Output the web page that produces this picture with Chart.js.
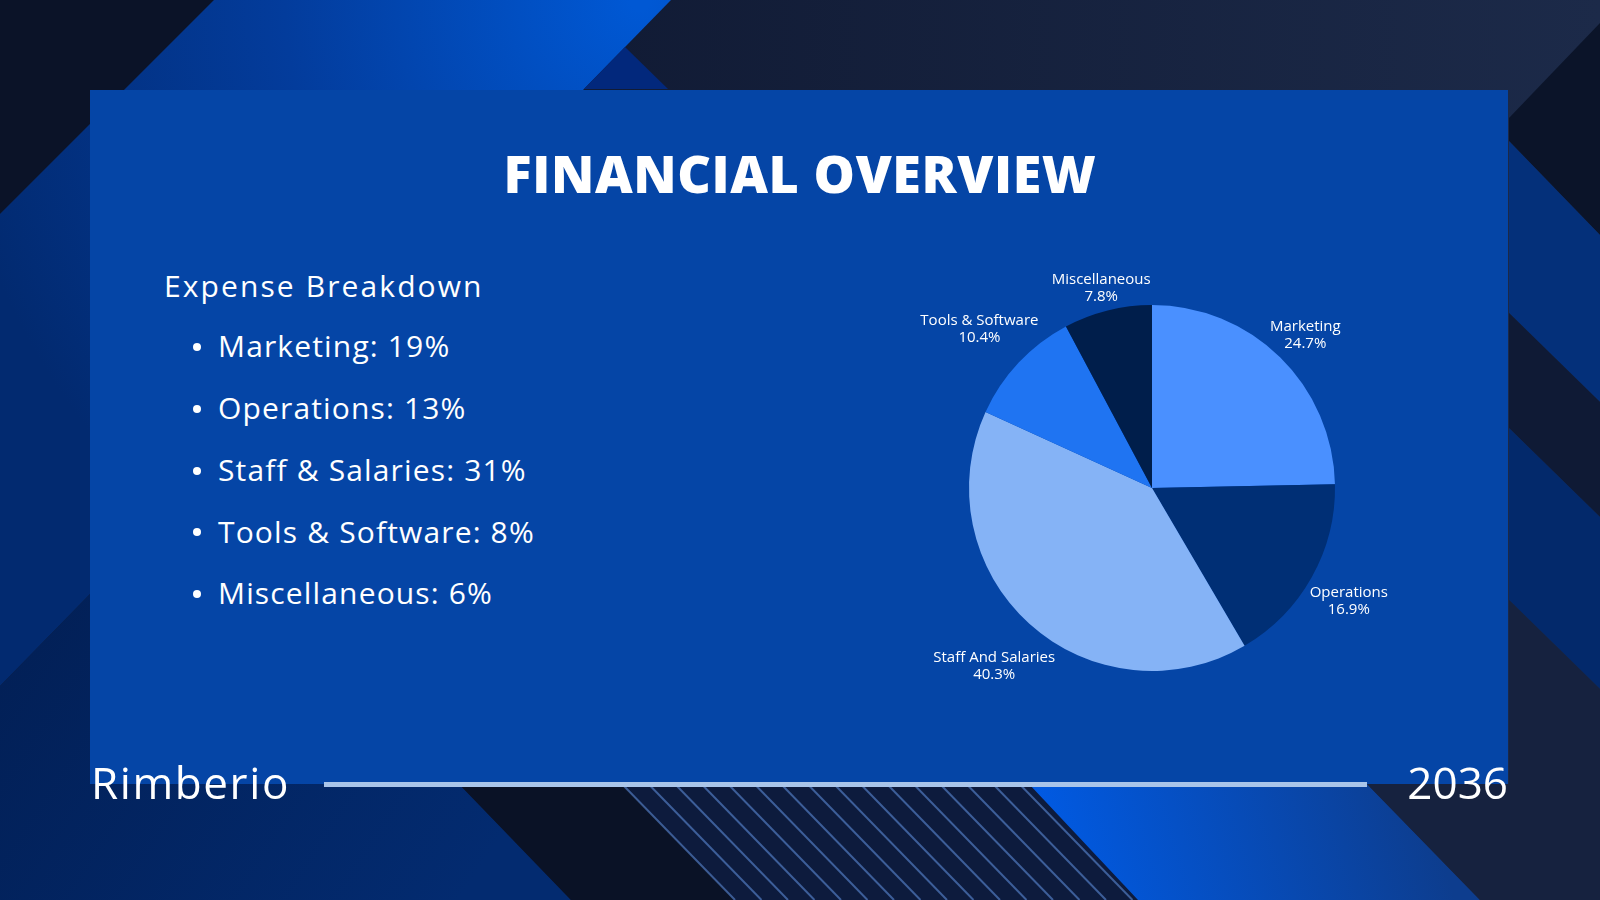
<!DOCTYPE html>
<html>
<head>
<meta charset="utf-8">
<script src="https://cdn.jsdelivr.net/npm/chart.js@4.4.1/dist/chart.umd.min.js"></script>
<style>
html,body{margin:0;padding:0;width:1600px;height:900px;overflow:hidden;background:#18243f;font-family:"Open Sans",sans-serif;color:#fff;}
#fondo{position:absolute;left:0;top:0;}
#panel{position:absolute;left:90px;top:90px;width:1418px;height:694px;background:#0545a6;}
#titulo{position:absolute;left:0;width:1600px;top:147px;text-align:center;font-weight:800;font-size:52px;line-height:52px;letter-spacing:0.6px;white-space:nowrap;}
#subtitulo{position:absolute;left:164px;top:271px;font-size:30px;line-height:30px;letter-spacing:2.1px;white-space:nowrap;}
.item{position:absolute;left:218px;font-size:30px;line-height:30px;letter-spacing:1.15px;white-space:nowrap;}
.punto{position:absolute;left:193px;width:8px;height:8px;border-radius:50%;background:#fff;}
#marca{position:absolute;left:91px;top:760px;font-size:44px;line-height:44px;letter-spacing:1.6px;}
#anio{position:absolute;right:92px;top:760px;font-size:44px;line-height:44px;}
#linea{position:absolute;left:324px;top:782px;width:1043px;height:5px;background:#a9c5ea;}
#cajaPie{position:absolute;left:852px;top:188px;width:600px;height:600px;}
</style>
</head>
<body>
<canvas id="fondo" width="1600" height="900"></canvas>
<div id="panel"></div>
<div id="titulo">FINANCIAL OVERVIEW</div>
<div id="subtitulo">Expense Breakdown</div>
<div id="lista"></div>
<div id="linea"></div>
<div id="marca">Rimberio</div>
<div id="anio">2036</div>
<div id="cajaPie"><canvas id="grafica"></canvas></div>

<script>
//DATOS
const categorias = ["Marketing", "Operations", "Staff And Salaries", "Tools & Software", "Miscellaneous"];
const valores = [24.7, 16.9, 40.3, 10.4, 7.8];
const colores = ["#4a90ff", "#002f75", "#85b3f6", "#1f74f2", "#001e4b"];

const listaNombres = ["Marketing", "Operations", "Staff & Salaries", "Tools & Software", "Miscellaneous"];
const listaPct = [19, 13, 31, 8, 6];


//FONDO
const fondo = document.getElementById("fondo").getContext("2d");

function poligono(puntos, relleno){
    fondo.beginPath();
    fondo.moveTo(puntos[0][0], puntos[0][1]);
    for(let i = 1; i < puntos.length; i++){
        fondo.lineTo(puntos[i][0], puntos[i][1]);
    }
    fondo.closePath();
    fondo.fillStyle = relleno;
    fondo.fill();
}

let gArriba = fondo.createLinearGradient(600, 0, 1600, 0);
gArriba.addColorStop(0, "#111b35");
gArriba.addColorStop(1, "#1c2a49");
fondo.fillStyle = gArriba;
fondo.fillRect(0, 0, 1600, 900);

poligono([[0,0],[214,0],[0,214]], "#0b1328");

let gCuña = fondo.createRadialGradient(640, 0, 10, 640, 0, 700);
gCuña.addColorStop(0, "#0058d4");
gCuña.addColorStop(0.5, "#033c9c");
gCuña.addColorStop(1, "#022a70");
poligono([[214,0],[671,0],[0,686],[0,214]], gCuña);

poligono([[625,47],[584,89],[668,89]], "#02287c");

let gIzq = fondo.createLinearGradient(0, 600, 460, 900);
gIzq.addColorStop(0, "#021f55");
gIzq.addColorStop(1, "#032b70");
poligono([[0,686],[580,93],[459,784],[571,900],[0,900]], gIzq);

//rayas abajo
poligono([[459,784],[1029,784],[1138,900],[571,900]], "#0a1226");
poligono([[622,784],[1029,784],[1138,900],[735,900]], "#0d1b3d");
fondo.save();
fondo.beginPath();
fondo.rect(0, 784, 1600, 116);
fondo.clip();
fondo.strokeStyle = "rgba(100,150,230,0.55)";
fondo.lineWidth = 2;
for(let x = 622; x <= 1022; x += 26.5){
    fondo.beginPath();
    fondo.moveTo(x, 784);
    fondo.lineTo(x + 113, 900);
    fondo.stroke();
}
fondo.restore();

let gAzul = fondo.createLinearGradient(1040, 900, 1420, 784);
gAzul.addColorStop(0, "#005ce8");
gAzul.addColorStop(1, "#0d3d8e");
poligono([[1029,784],[1367,784],[1480,900],[1138,900]], gAzul);

//bandas derecha
poligono([[1509,118],[1600,23],[1600,235],[1509,141]], "#0b1429");
poligono([[1509,141],[1600,235],[1600,402],[1509,313]], "#04307a");
poligono([[1509,313],[1600,402],[1600,517],[1509,428]], "#0f1a35");
poligono([[1509,428],[1600,517],[1600,689],[1509,600]], "#03296b");
poligono([[1509,600],[1600,689],[1600,900],[1480,900],[1367,784],[1509,784]], "#16223f");


//LISTA
const lista = document.getElementById("lista");
const basePrimera = 358;
const salto = 61.75;
for(let i = 0; i < listaNombres.length; i++){
    let base = basePrimera + i * salto;
    let txt = document.createElement("div");
    txt.className = "item";
    txt.style.top = (base - 26.6) + "px";
    txt.innerText = listaNombres[i] + ": " + listaPct[i] + "%";
    lista.appendChild(txt);
    let p = document.createElement("div");
    p.className = "punto";
    p.style.top = (base - 15) + "px";
    lista.appendChild(p);
}


//ETIQUETAS DEL PIE
const etiquetas = {
    id: "etiquetas",
    afterDatasetsDraw(chart){
        const ctx = chart.ctx;
        const arcos = chart.getDatasetMeta(0).data;
        const total = valores.reduce((a, b) => a + b, 0);
        ctx.save();
        ctx.font = "15px 'Open Sans'";
        ctx.fillStyle = "#ffffff";
        ctx.textAlign = "center";
        ctx.textBaseline = "alphabetic";
        arcos.forEach((arco, i) => {
            let medio = (arco.startAngle + arco.endAngle) / 2;
            let dx = Math.cos(medio);
            let dy = Math.sin(medio);
            let linea1 = categorias[i];
            let linea2 = (valores[i] / total * 100).toFixed(1) + "%";
            let hw = Math.max(ctx.measureText(linea1).width, ctx.measureText(linea2).width) / 2;
            let extra = hw * Math.abs(dx) + 13 * Math.abs(dy) + 2;
            let d = arco.outerRadius + extra;
            let cx = arco.x + dx * d;
            let cy = arco.y + dy * d;
            ctx.fillText(linea1, cx, cy - 1);
            ctx.fillText(linea2, cx, cy + 16);
        });
        ctx.restore();
    }
};


//GRAFICA
let micanvas = document.getElementById("grafica").getContext("2d");
var char = new Chart(micanvas, {
    type: "pie",
    data: {
        labels: categorias,
        datasets: [
            {
                data: valores,
                backgroundColor: colores,
                borderWidth: 0
            }
        ]
    },
    options: {
        responsive: true,
        maintainAspectRatio: false,
        animation: false,
        layout: { padding: 117 },
        plugins: {
            legend: { display: false },
            tooltip: { enabled: false }
        }
    },
    plugins: [etiquetas]
});
</script>
</body>
</html>
